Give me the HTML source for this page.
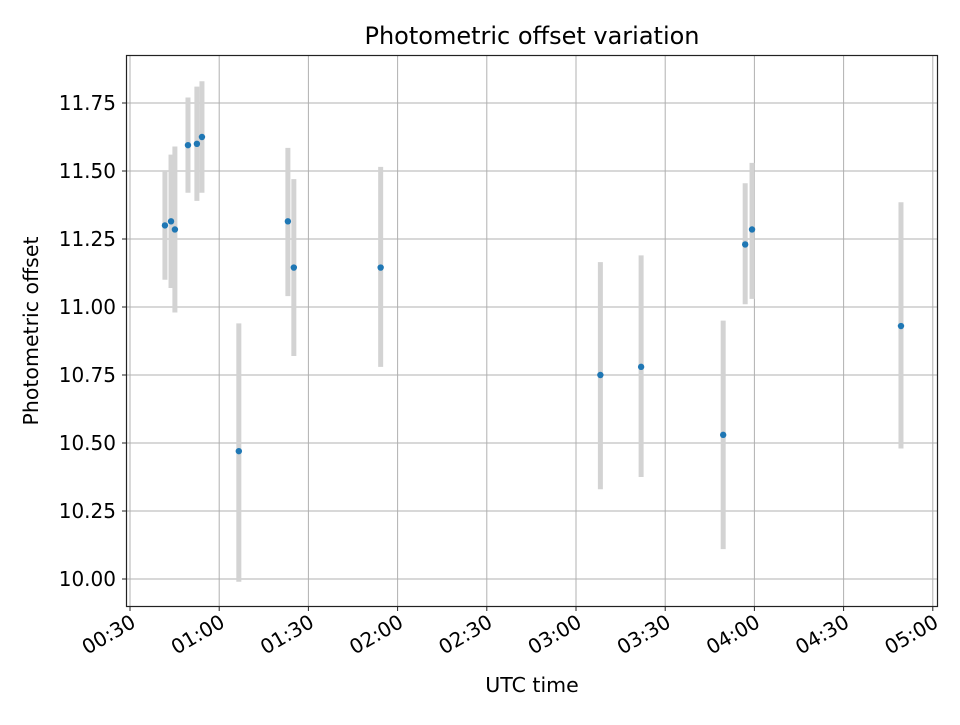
<!DOCTYPE html>
<html><head><meta charset="utf-8"><style>
body{margin:0;background:#fff;}
svg text{font-family:"DejaVu Sans","Liberation Sans",sans-serif;fill:#000;}
</style></head><body>
<svg id="chart" width="960" height="720" xmlns="http://www.w3.org/2000/svg">
<rect width="960" height="720" fill="#fff"/>
<g id="grid"></g><g id="errs"></g><g id="pts"></g>
<rect x="126.5" y="55.5" width="811" height="551" fill="none" stroke="#222" stroke-width="1.2"/>
<g id="ticks"></g>
<text x="532" y="44" text-anchor="middle" font-size="24">Photometric offset variation</text>
<text x="532" y="692" text-anchor="middle" font-size="20.5">UTC time</text>
<text transform="translate(38,331) rotate(-90)" text-anchor="middle" font-size="20.5">Photometric offset</text>
</svg>
<script>
// times in minutes after 00:00 UTC
const times=[41.75,43.8,45.1,49.5,52.5,54.2,66.6,83.1,85.1,114.3,188.2,201.9,229.5,236.9,239.2,289.3];
const values=[11.30,11.315,11.285,11.595,11.60,11.625,10.47,11.315,11.145,11.145,10.75,10.78,10.53,11.23,11.285,10.93];
const errLow=[11.10,11.07,10.98,11.42,11.39,11.42,9.99,11.04,10.82,10.78,10.33,10.375,10.11,11.01,11.03,10.48];
const errHigh=[11.50,11.56,11.59,11.77,11.81,11.83,10.94,11.585,11.47,11.515,11.165,11.19,10.95,11.455,11.53,11.385];
const yTicks=[10.00,10.25,10.50,10.75,11.00,11.25,11.50,11.75];
const xTickLabels=["00:30","01:00","01:30","02:00","02:30","03:00","03:30","04:00","04:30","05:00"];
const xTickMinutes=[30,60,90,120,150,180,210,240,270,300];

const NS="http://www.w3.org/2000/svg";
const xs=m=>130+(m-30)*(89.2/30);
const ys=v=>579-(v-10)*272;
function mk(parent,tag,attrs){const e=document.createElementNS(NS,tag);for(const k in attrs)e.setAttribute(k,attrs[k]);document.getElementById(parent).appendChild(e);return e;}

yTicks.forEach((v,i)=>{
  const y=ys(v);
  const g=mk('grid','line',{x1:126.5,x2:937.5,y1:y,y2:y,stroke:'#b0b0b0','stroke-width':1});
  
  
  const t=mk('ticks','line',{x1:122,x2:126.5,y1:y,y2:y,stroke:'#222','stroke-width':1});
  
  
  const l=mk('ticks','text',{x:116,y:y+7,'text-anchor':'end','font-size':20});
  l.textContent=v.toFixed(2);
  
  
});
xTickMinutes.forEach((m,i)=>{
  const x=xs(m);
  const g=mk('grid','line',{x1:x,x2:x,y1:55.5,y2:606.5,stroke:'#b0b0b0','stroke-width':1});
  
  
  const t=mk('ticks','line',{x1:x,x2:x,y1:606.5,y2:611,stroke:'#222','stroke-width':1});
  
  
  const l=mk('ticks','text',{transform:`translate(${x+7},${626}) rotate(-30)`,'text-anchor':'end','font-size':20});
  l.textContent=xTickLabels[i];
  
  
});
times.forEach((m,i)=>{
  const x=xs(m);
  const e=mk('errs','line',{x1:x,x2:x,y1:ys(errLow[i]),y2:ys(errHigh[i]),stroke:'#d3d3d3','stroke-width':5});
  
  
  const p=mk('pts','circle',{cx:x,cy:ys(values[i]),r:3.2,fill:'#1f77b4'});
  
  
});
</script>
</body></html>
